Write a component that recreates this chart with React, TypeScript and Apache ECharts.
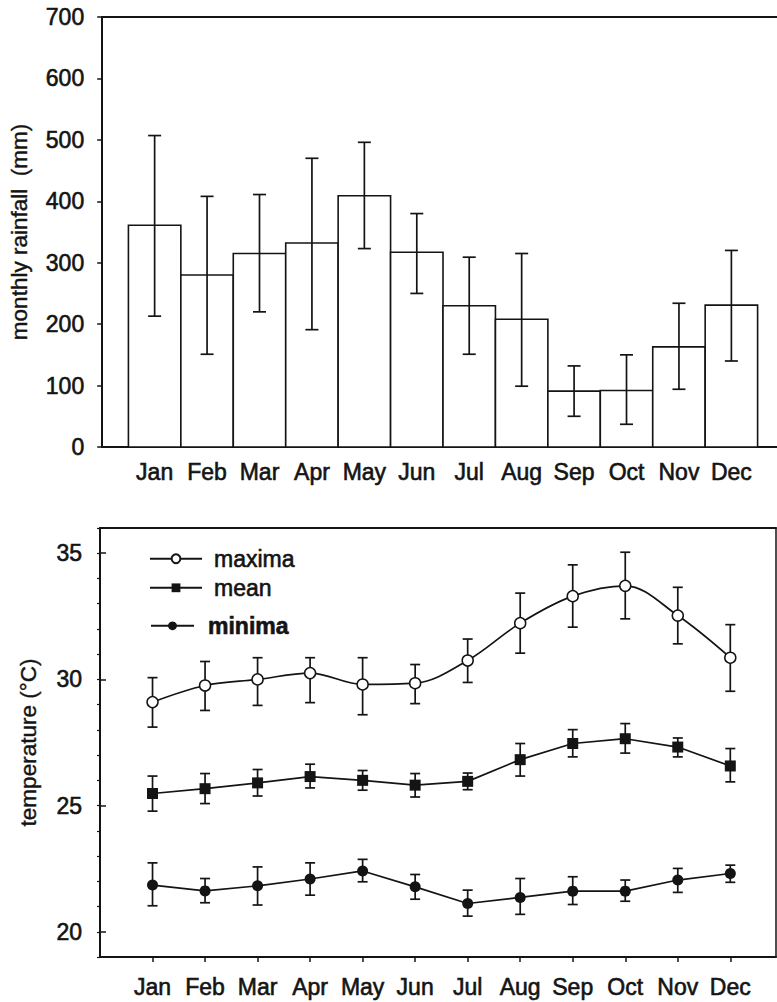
import React, { useEffect, useRef } from 'react';
import * as echarts from 'echarts';

const months = ['Jan', 'Feb', 'Mar', 'Apr', 'May', 'Jun', 'Jul', 'Aug', 'Sep', 'Oct', 'Nov', 'Dec'];
const monthIndex = [1, 2, 3, 4, 5, 6, 7, 8, 9, 10, 11, 12];

const rainfall = [361, 280, 315, 332, 409, 317, 230, 208, 91, 92, 163, 231];
const rainfallHigh = [507, 408, 411, 470, 496, 380, 309, 315, 132, 150, 234, 320];
const rainfallLow = [213, 151, 220, 191, 323, 250, 151, 99, 50, 37, 94, 140];

const tMax = [29.1, 29.76, 30.0, 30.25, 29.8, 29.85, 30.75, 32.23, 33.3, 33.71, 32.53, 30.86];
const tMaxHigh = [30.07, 30.71, 30.86, 30.86, 30.86, 30.59, 31.6, 33.42, 34.54, 35.04, 33.65, 32.17];
const tMaxLow = [28.11, 28.77, 28.97, 29.08, 28.6, 29.04, 29.88, 31.04, 32.07, 32.4, 31.41, 29.53];

const tMean = [25.48, 25.67, 25.9, 26.15, 26.0, 25.81, 25.96, 26.82, 27.46, 27.65, 27.32, 26.57];
const tMeanHigh = [26.17, 26.27, 26.43, 26.64, 26.39, 26.27, 26.29, 27.46, 28.01, 28.25, 27.68, 27.26];
const tMeanLow = [24.78, 25.08, 25.38, 25.7, 25.61, 25.34, 25.63, 26.17, 26.93, 27.08, 26.93, 25.94];

const tMin = [21.85, 21.62, 21.82, 22.09, 22.41, 21.78, 21.12, 21.36, 21.61, 21.61, 22.05, 22.31];
const tMinHigh = [22.73, 22.11, 22.57, 22.73, 22.87, 22.27, 21.65, 22.11, 22.18, 22.05, 22.51, 22.64];
const tMinLow = [21.03, 21.15, 21.06, 21.45, 21.98, 21.29, 20.62, 20.69, 21.08, 21.21, 21.56, 21.96];

const rainTicksMax = 700;
const tempMin = 19;
const tempMax = 36;
const tempMajor = [20, 25, 30, 35];
const X_MAX = 12.87;

const FONT = "'Liberation Sans', Arial, Helvetica, sans-serif";
const INK = '#141414';
const THICK = { textBorderColor: INK, textBorderWidth: 0.6 };

function errorBarSeries(name: string, xi: number, yi: number, hi: number[], lo: number[], cap: number, z: number) {
  return {
    type: 'custom',
    name: name + '-err',
    xAxisIndex: xi,
    yAxisIndex: yi,
    z,
    silent: true,
    data: monthIndex.map((m, i) => [m, hi[i], lo[i]]),
    encode: { x: 0, y: [1, 2] },
    renderItem: (params: any, api: any) => {
      const x = api.value(0);
      const top = api.coord([x, api.value(1)]);
      const bot = api.coord([x, api.value(2)]);
      const w = cap / 2;
      const style = { stroke: INK, lineWidth: 1.7 };
      return {
        type: 'group',
        children: [
          { type: 'line', shape: { x1: top[0], y1: top[1], x2: bot[0], y2: bot[1] }, style },
          { type: 'line', shape: { x1: top[0] - w, y1: top[1], x2: top[0] + w, y2: top[1] }, style },
          { type: 'line', shape: { x1: bot[0] - w, y1: bot[1], x2: bot[0] + w, y2: bot[1] }, style },
        ],
      };
    },
  };
}

export default function App() {
  const ref = useRef<HTMLDivElement>(null);
  useEffect(() => {
    if (!ref.current) return;
    const chart = echarts.init(ref.current, null, { renderer: 'svg' });
    const axisLine = { show: true, lineStyle: { color: INK, width: 2 } };
    const labelBase = { color: INK, fontFamily: FONT, fontSize: 23, ...THICK };
    const legendText = { color: INK, fontFamily: FONT, fontSize: 23, ...THICK };
    const option: any = {
      animation: false,
      backgroundColor: '#fff',
      grid: [
        { left: 100, top: 17, width: 677, height: 430 },
        { left: 100, top: 528, width: 676, height: 429 },
      ],
      xAxis: [
        {
          gridIndex: 0, type: 'value', min: 0, max: X_MAX, interval: 1,
          axisLine, axisTick: { show: false }, splitLine: { show: false },
          axisLabel: { ...labelBase, margin: 13, customValues: monthIndex, formatter: (v: number) => months[v - 1] ?? '' },
        },
        {
          gridIndex: 0, type: 'value', position: 'top', min: 0, max: X_MAX, interval: 1,
          axisLine, axisTick: { show: false }, axisLabel: { show: false }, splitLine: { show: false },
        },
        {
          gridIndex: 1, type: 'value', min: 0, max: X_MAX, interval: 1,
          axisLine,
          axisTick: { show: true, customValues: monthIndex, length: 5, lineStyle: { color: INK, width: 1.5 } },
          splitLine: { show: false },
          axisLabel: { ...labelBase, margin: 18, customValues: monthIndex, formatter: (v: number) => months[v - 1] ?? '' },
        },
        {
          gridIndex: 1, type: 'value', position: 'top', min: 0, max: X_MAX, interval: 1,
          axisLine, axisTick: { show: false }, axisLabel: { show: false }, splitLine: { show: false },
        },
      ],
      yAxis: [
        {
          gridIndex: 0, type: 'value', min: 0, max: rainTicksMax, interval: 100,
          axisLine, splitLine: { show: false },
          axisTick: { show: true, length: 5, lineStyle: { color: INK, width: 1.5 } },
          axisLabel: { ...labelBase, margin: 18 },
          name: 'monthly rainfall  (mm)', nameLocation: 'middle', nameGap: 71,
          nameTextStyle: { color: INK, fontFamily: FONT, fontSize: 22.5, textBorderColor: INK, textBorderWidth: 0.4 },
        },
        {
          gridIndex: 1, type: 'value', min: tempMin, max: tempMax, interval: 1,
          axisLine, splitLine: { show: false },
          axisTick: { show: true, length: 3, lineStyle: { color: INK, width: 1.2 } },
          axisLabel: { ...labelBase, margin: 18, formatter: (v: number) => (v % 5 === 0 ? String(v) : '') },
          name: 'temperature (°C)', nameLocation: 'middle', nameGap: 60,
          nameTextStyle: { color: INK, fontFamily: FONT, fontSize: 22.5, textBorderColor: INK, textBorderWidth: 0.4 },
        },
        {
          gridIndex: 1, type: 'value', min: tempMin, max: tempMax, interval: 1,
          axisLine: { show: false }, splitLine: { show: false },
          axisTick: { show: true, customValues: tempMajor, length: 6, lineStyle: { color: INK, width: 1.5 } },
          axisLabel: { show: false },
        },
        {
          gridIndex: 1, type: 'value', position: 'right', min: tempMin, max: tempMax, interval: 1,
          axisLine: { show: true, lineStyle: { color: INK, width: 1.5 } },
          axisTick: { show: false }, axisLabel: { show: false }, splitLine: { show: false },
        },
      ],
      legend: [
        {
          data: ['maxima'], left: 149, top: 547, padding: 0, itemWidth: 52, itemHeight: 11, selectedMode: false,
          textStyle: { ...legendText, padding: [0, 0, 0, 7] },
        },
        {
          data: ['mean'], left: 149, top: 576, padding: 0, itemWidth: 52, itemHeight: 11, selectedMode: false,
          textStyle: { ...legendText, padding: [0, 0, 0, 7] },
        },
        {
          data: ['minima'], left: 150, top: 614, padding: 0, itemWidth: 43, itemHeight: 11, selectedMode: false,
          textStyle: { ...legendText, fontWeight: 'bold', padding: [0, 0, 0, 9] },
        },
      ],
      series: [
        {
          type: 'custom',
          name: 'rainfall',
          xAxisIndex: 0,
          yAxisIndex: 0,
          z: 1,
          data: monthIndex.map((m, i) => [m, rainfall[i]]),
          encode: { x: 0, y: 1 },
          renderItem: (params: any, api: any) => {
            const x = api.value(0);
            const v = api.value(1);
            const p1 = api.coord([x - 0.5, v]);
            const p2 = api.coord([x + 0.5, 0]);
            return {
              type: 'rect',
              shape: { x: p1[0], y: p1[1], width: p2[0] - p1[0], height: p2[1] - p1[1] },
              style: { fill: '#fff', stroke: INK, lineWidth: 1.6 },
            };
          },
        },
        errorBarSeries('rainfall', 0, 0, rainfallHigh, rainfallLow, 13, 2),
        errorBarSeries('maxima', 2, 1, tMaxHigh, tMaxLow, 10, 2),
        errorBarSeries('mean', 2, 1, tMeanHigh, tMeanLow, 10, 2),
        errorBarSeries('minima', 2, 1, tMinHigh, tMinLow, 10, 2),
        {
          type: 'line', name: 'maxima', xAxisIndex: 2, yAxisIndex: 1, z: 3,
          data: monthIndex.map((m, i) => [m, tMax[i]]),
          smooth: 0.35, symbol: 'circle', symbolSize: 11,
          itemStyle: { color: '#fff', borderColor: INK, borderWidth: 1.5 },
          lineStyle: { color: INK, width: 1.7 },
        },
        {
          type: 'line', name: 'mean', xAxisIndex: 2, yAxisIndex: 1, z: 3,
          data: monthIndex.map((m, i) => [m, tMean[i]]),
          symbol: 'rect', symbolSize: 11,
          itemStyle: { color: INK },
          lineStyle: { color: INK, width: 1.7 },
        },
        {
          type: 'line', name: 'minima', xAxisIndex: 2, yAxisIndex: 1, z: 3,
          data: monthIndex.map((m, i) => [m, tMin[i]]),
          symbol: 'circle', symbolSize: 11,
          itemStyle: { color: INK },
          lineStyle: { color: INK, width: 1.7 },
        },
      ],
    };
    chart.setOption(option);
    return () => chart.dispose();
  }, []);
  return (
    <div
      ref={ref}
      style={{ position: 'fixed', left: 0, top: 0, width: 777, height: 1002, background: '#fff' }}
    />
  );
}
